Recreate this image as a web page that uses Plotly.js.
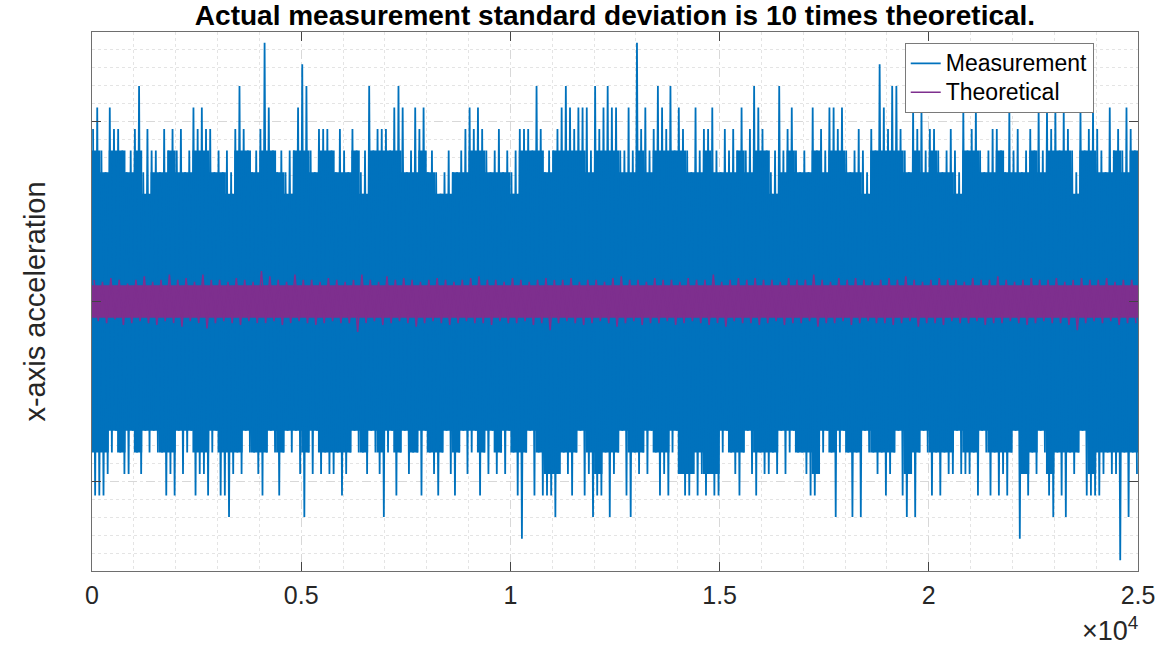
<!DOCTYPE html>
<html>
<head>
<meta charset="utf-8">
<script src="https://cdn.plot.ly/plotly-3.0.1.min.js"></script>
<style>html,body{margin:0;padding:0;background:#fff;}#chart{width:1163px;height:650px;}</style>
</head>
<body>
<div id="chart"></div>
<script>
// ---- Data ----
// Measurement: per 100-sample bin, the highest and lowest quantized level reached
// (one level = 0.12 units of acceleration)
const levelStep = 0.12;
const binSize = 100;
const measMax = [
 8,9,7,6,9,8,8,7,6,7,
 8,10,6,8,7,7,6,8,7,8,
 7,8,6,7,9,8,9,8,8,6,
 7,6,7,6,8,10,8,7,6,7,
 8,12,9,7,6,7,6,7,7,9,
 11,10,7,6,8,8,8,7,6,8,
 7,6,8,7,6,7,10,7,8,8,
 8,7,9,10,9,6,7,9,8,9,
 6,7,6,5,6,7,6,6,7,8,
 9,8,9,8,7,6,7,8,6,7,
 6,7,8,8,8,7,10,8,6,7,
 7,8,9,10,9,8,9,9,9,7,
 10,8,9,10,9,9,7,7,9,7,
 12,8,9,7,8,10,9,8,10,7,
 9,8,7,6,9,7,8,8,9,7,
 6,8,7,8,7,9,7,8,10,9,
 8,7,6,7,10,7,8,9,7,6,
 7,6,9,7,8,7,9,9,8,9,
 7,6,7,8,7,6,8,7,11,9,
 8,10,10,8,7,6,9,8,9,7,
 8,8,7,6,7,8,7,6,9,7,
 8,9,7,6,7,8,8,7,6,9,
 7,8,6,7,8,7,9,7,9,8,
 9,7,9,8,7,6,9,7,8,9,
 8,7,6,9,7,8,7,9,8,7
];
const measMin = [
 -9,-9,-9,-8,-7,-6,-7,-8,-8,-6,
 -7,-8,-6,-7,-6,-7,-7,-9,-8,-9,
 -6,-8,-7,-6,-9,-8,-8,-9,-7,-6,
 -9,-9,-10,-8,-7,-8,-6,-7,-7,-8,
 -9,-7,-6,-7,-9,-7,-6,-7,-6,-8,
 -10,-7,-8,-6,-8,-7,-8,-8,-7,-9,
 -8,-7,-6,-7,-7,-8,-6,-7,-8,-10,
 -7,-6,-9,-7,-6,-8,-7,-7,-9,-6,
 -7,-8,-9,-7,-6,-8,-9,-7,-6,-8,
 -7,-6,-9,-7,-8,-6,-8,-7,-8,-6,
 -7,-9,-11,-7,-6,-9,-7,-9,-9,-9,
 -10,-8,-7,-8,-9,-7,-6,-9,-8,-10,
 -9,-9,-7,-10,-8,-7,-6,-9,-10,-7,
 -8,-7,-8,-6,-7,-9,-8,-9,-7,-6,
 -8,-9,-9,-8,-9,-8,-9,-8,-9,-9,
 -7,-6,-7,-8,-9,-7,-6,-8,-9,-7,
 -8,-8,-7,-8,-6,-8,-7,-6,-7,-7,
 -8,-9,-9,-8,-7,-6,-7,-10,-7,-6,
 -7,-10,-7,-10,-6,-7,-7,-8,-7,-9,
 -8,-7,-6,-9,-10,-8,-10,-7,-6,-7,
 -9,-7,-9,-7,-8,-8,-6,-8,-8,-8,
 -7,-9,-6,-7,-9,-7,-9,-8,-9,-7,
 -6,-11,-8,-9,-7,-8,-6,-7,-9,-10,
 -7,-9,-10,-7,-8,-7,-6,-9,-9,-9,
 -9,-8,-7,-8,-8,-12,-7,-10,-7,-8
];
// Per 200-sample bin: levels up to which the measurement is (almost) solid
const denseBinSize = 200;
const measDenseHi = [
 7,6,7,7,6, 7,5,6,6,7,
 6,6,7,7,6, 6,5,7,7,6,
 7,7,6,5,7, 7,6,7,7,6,
 6,7,5,7,7, 7,7,6,6,7,
 6,5,5,6,6, 7,7,6,6,6,
 5,7,7,7,6, 7,7,7,7,6,
 7,7,7,6,6, 7,6,7,7,7,
 7,6,6,7,6, 6,6,7,6,7,
 7,5,6,7,6, 6,7,6,7,7,
 6,6,5,7,7, 7,7,6,7,6,
 7,6,6,5,7, 7,6,6,7,6,
 6,6,7,6,7, 7,7,5,7,7,
 6,6,7,6,7
];
const measDenseLo = [
 -7,-7,-6,-7,-6, -7,-6,-6,-7,-7,
 -6,-6,-7,-7,-6, -7,-7,-7,-6,-7,
 -7,-6,-7,-6,-6, -7,-6,-7,-7,-7,
 -7,-6,-7,-6,-7, -6,-7,-6,-7,-6,
 -7,-7,-6,-7,-6, -6,-7,-6,-7,-6,
 -7,-7,-6,-7,-8, -8,-7,-7,-6,-7,
 -8,-7,-7,-6,-7, -7,-6,-7,-7,-6,
 -8,-8,-7,-8,-8, -6,-7,-7,-6,-7,
 -7,-7,-6,-6,-7, -7,-8,-6,-7,-6,
 -7,-7,-6,-7,-7, -7,-6,-8,-7,-6,
 -7,-7,-7,-6,-7, -7,-6,-7,-7,-7,
 -6,-8,-7,-6,-8, -7,-7,-7,-6,-8,
 -7,-7,-7,-7,-7
];

// Theoretical: per 200-sample bin, highest and lowest value (hundredths of a unit)
const theoBinSize = 200;
const theoMax = [
 12,11,13,12,10,12,14,11,12,15,
 12,13,11,15,12,12,11,13,12,11,
 17,14,12,11,15,12,12,11,13,12,
 11,12,15,12,11,14,12,13,12,11,
 12,13,12,11,12,13,14,12,12,11,
 13,12,11,12,13,12,12,13,11,12,
 12,11,13,14,12,12,11,13,12,12,
 11,13,12,12,15,11,12,13,12,13,
 12,12,11,13,12,12,15,12,11,13,
 12,13,12,11,12,13,12,14,12,11,
 12,13,12,12,11,13,12,12,14,12,
 11,12,13,12,12,13,11,12,13,12,
 12,13,11,12,12
];
const theoMin = [
 -11,-12,-10,-13,-12,-11,-12,-13,-11,-12,
 -14,-11,-12,-15,-12,-11,-12,-13,-11,-12,
 -12,-11,-13,-12,-11,-12,-13,-12,-11,-12,
 -12,-17,-12,-11,-13,-12,-11,-12,-14,-12,
 -11,-12,-13,-12,-11,-12,-12,-13,-11,-12,
 -12,-11,-13,-12,-16,-12,-11,-12,-13,-12,
 -11,-12,-14,-12,-11,-13,-12,-12,-11,-13,
 -12,-11,-12,-13,-12,-14,-11,-12,-12,-13,
 -12,-11,-13,-12,-12,-11,-14,-12,-12,-11,
 -13,-12,-11,-12,-12,-13,-12,-11,-14,-12,
 -12,-13,-11,-12,-12,-11,-13,-12,-12,-11,
 -12,-13,-12,-11,-12,-12,-13,-16,-12,-11,
 -12,-11,-13,-12,-12
];
const theoCore = [9, -9];

const nSamples = 25000;
const xTickVals = [0, 5000, 10000, 15000, 20000, 25000];
const xTickText = ['0', '0.5', '1', '1.5', '2', '2.5'];
const yTickVals = [-1, 0, 1];

const titleText = 'Actual measurement standard deviation is 10 times theoretical.';
const yTitle = 'x-axis acceleration';
const seriesNames = ['Measurement', 'Theoretical'];

// ---- Build traces ----
const blue = '#0072BD', purple = '#7E2F8E';
const mx = [], my = [];
for (let i = 0; i < measMax.length; i++) {
  mx.push(i * binSize + binSize * 0.25, i * binSize + binSize * 0.75);
  my.push(measMax[i] * levelStep, measMin[i] * levelStep);
}
// dense part as a stepped envelope polygon
const dx = [], dy = [];
for (let j = 0; j < measDenseHi.length; j++) {
  dx.push(j * denseBinSize, (j + 1) * denseBinSize);
  dy.push(measDenseHi[j] * levelStep, measDenseHi[j] * levelStep);
}
for (let j = measDenseLo.length - 1; j >= 0; j--) {
  dx.push((j + 1) * denseBinSize, j * denseBinSize);
  dy.push(measDenseLo[j] * levelStep, measDenseLo[j] * levelStep);
}
const tx = [], ty = [];
for (let i = 0; i < theoMax.length; i++) {
  tx.push(i * theoBinSize + theoBinSize * 0.25, i * theoBinSize + theoBinSize * 0.75);
  ty.push(theoMax[i] / 100, theoMin[i] / 100);
}
const traces = [
  {type: 'scatter', mode: 'lines', x: dx, y: dy, fill: 'toself', fillcolor: blue,
   line: {width: 0, color: blue}, showlegend: false, hoverinfo: 'skip'},
  {type: 'scatter', mode: 'lines', x: mx, y: my,
   name: '<span style="font-size:23px">' + seriesNames[0] + '</span>', line: {color: blue, width: 1.8}},
  {type: 'scatter', mode: 'lines', x: [0, nSamples, nSamples, 0, 0],
   y: [theoCore[0] / 100, theoCore[0] / 100, theoCore[1] / 100, theoCore[1] / 100, theoCore[0] / 100],
   fill: 'toself', fillcolor: purple, line: {width: 0, color: purple}, showlegend: false, hoverinfo: 'skip'},
  {type: 'scatter', mode: 'lines', x: tx, y: ty,
   name: '<span style="font-size:23px">' + seriesNames[1] + '</span>', line: {color: purple, width: 1.5}}
];

const font = 'Liberation Sans, Arial, Helvetica, sans-serif';
const axisCommon = {
  showline: true, mirror: 'ticks', linecolor: '#6e6e6e', linewidth: 1,
  ticks: 'inside', ticklen: 9, tickcolor: '#444', tickwidth: 1,
  showgrid: true, gridcolor: '#d8d8d8', griddash: 'dash', gridwidth: 1,
  zeroline: false, automargin: false
};
const layout = {
  width: 1163, height: 650,
  margin: {l: 92, r: 25, t: 32, b: 79},
  paper_bgcolor: '#fff', plot_bgcolor: '#fff',
  font: {family: font, color: '#262626'},
  title: {text: titleText, font: {family: font, size: 28, weight: 'bold', color: '#000'},
          x: 0.5, xref: 'paper', xanchor: 'center', y: 0.976, yref: 'container', yanchor: 'middle'},
  xaxis: Object.assign({}, axisCommon, {
    range: [0, nSamples], tickmode: 'array', tickvals: xTickVals, ticktext: xTickText,
    tickfont: {size: 25, color: '#262626'}, ticklabelstandoff: 2,
    minor: {dtick: 1000, tick0: 0, showgrid: true, gridcolor: '#e4e4e4', griddash: 'dot', gridwidth: 1, ticks: ''}
  }),
  yaxis: Object.assign({}, axisCommon, {
    range: [-1.5, 1.5], tickmode: 'array', tickvals: yTickVals, showticklabels: false,
    title: {text: yTitle, font: {size: 29, color: '#262626'}, standoff: 36},
    minor: {dtick: 0.1, tick0: 0, showgrid: true, gridcolor: '#e4e4e4', griddash: 'dot', gridwidth: 1, ticks: ''}
  }),
  legend: {
    x: 0.777, y: 0.98, xanchor: 'left', yanchor: 'top',
    bgcolor: '#fff', bordercolor: '#7a7a7a', borderwidth: 1,
    font: {size: 20, color: '#000'}, tracegroupgap: 0, itemwidth: 30
  },
  annotations: [{
    text: '×10<sup>4</sup>', xref: 'paper', yref: 'paper', x: 1.002, y: -0.108,
    xanchor: 'right', yanchor: 'middle', showarrow: false,
    font: {size: 27, color: '#262626', family: font}
  }],
  showlegend: true
};
Plotly.newPlot('chart', traces, layout, {displayModeBar: false, staticPlot: true});
</script>
</body>
</html>
